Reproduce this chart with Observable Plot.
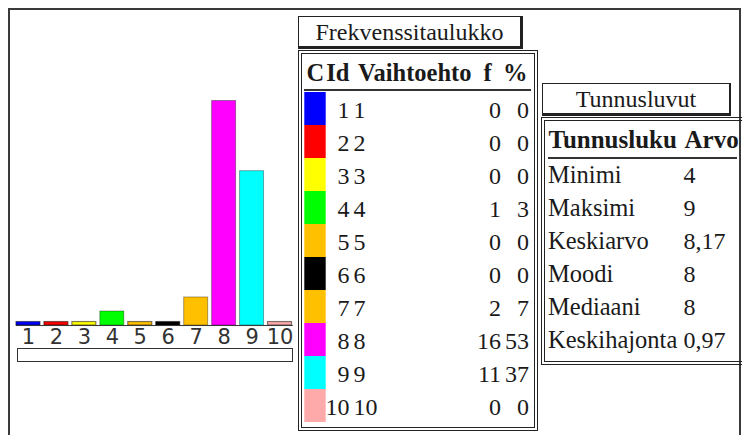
<!DOCTYPE html>
<html><head><meta charset="utf-8">
<script src="https://cdn.jsdelivr.net/npm/d3@7"></script>
<script src="https://cdn.jsdelivr.net/npm/@observablehq/plot@0.6"></script>
<style>
html,body{margin:0;padding:0;background:#fff;}
#root{position:relative;width:742px;height:435px;overflow:hidden;font-family:"Liberation Serif","Times New Roman",serif;color:#1a1a1a;}
.abs{position:absolute;box-sizing:border-box;}
.title{font-size:24px;text-align:center;white-space:nowrap;}
</style></head><body><div id="root"></div>
<script>
// ---- data ----
const ids = [1, 2, 3, 4, 5, 6, 7, 8, 9, 10];
const options = ["1", "2", "3", "4", "5", "6", "7", "8", "9", "10"];
const freq = [0, 0, 0, 1, 0, 0, 2, 16, 11, 0];
const percent = [0, 0, 0, 3, 0, 0, 7, 53, 37, 0];
const colors = ["#0000ff", "#ff0000", "#ffff00", "#00ff00", "#ffc000", "#000000", "#ffc000", "#ff00ff", "#00ffff", "#ffaaaa"];
const freqTitle = "Frekvenssitaulukko";
const freqHeaders = ["C", "Id", "Vaihtoehto", "f", "%"];
const statTitle = "Tunnusluvut";
const statHeaders = ["Tunnusluku", "Arvo"];
const statNames = ["Minimi", "Maksimi", "Keskiarvo", "Moodi", "Mediaani", "Keskihajonta"];
const statValues = ["4", "9", "8,17", "8", "8", "0,97"];

const rows = ids.map((id, i) => ({id, option: options[i], f: freq[i], pct: percent[i]}));
const stats = statNames.map((name, i) => ({name, value: statValues[i]}));

const root = document.getElementById("root");
function box(css, text) {
  const d = document.createElement("div");
  d.className = "abs";
  d.style.cssText = css;
  if (text != null) d.textContent = text;
  root.appendChild(d);
  return d;
}

// outer frame
box("left:8px;top:8px;width:733px;height:460px;border:2px solid #3a3a3a;");

// ---- bar chart ----
const barWrap = box("left:0;top:0;width:293.5px;height:370px;overflow:hidden;");
const barPlot = Plot.plot({
  width: 294, height: 370,
  marginLeft: 16, marginRight: 0.7, marginTop: 100.7, marginBottom: 44.4,
  x: {type: "band", domain: ids, paddingInner: 0.13, paddingOuter: 0, label: null},
  y: {domain: [0, d3.max(freq)], axis: null},
  color: {type: "ordinal", domain: ids, range: colors},
  style: {background: "none", fontFamily: "DejaVu Sans", fontSize: "21px", color: "#333", overflow: "visible"},
  marks: [
    Plot.barY(rows.filter(d => d.f > 0), {x: "id", y: "f", fill: "id", stroke: "#000", strokeOpacity: 0.35, strokeWidth: 1}),
    Plot.barY(rows.filter(d => d.f === 0), {x: "id", y: "f", fill: "id", stroke: "#000", strokeOpacity: 0.5, strokeWidth: 1.2, insetTop: -3.5}),
    Plot.ruleY([0], {stroke: "#333", strokeWidth: 1}),
    Plot.axisX({tickSize: 0, tickPadding: 3.5, fontSize: 21, fontFamily: "DejaVu Sans", fill: "#333", label: null})
  ]
});
barWrap.appendChild(barPlot);
box("left:17px;top:348px;width:276px;height:13.5px;border:1.5px solid #333;");

// ---- frequency table ----
const ft = box("left:298px;top:16px;width:225px;height:32.5px;border:1px solid #222;border-right-width:3px;border-bottom-width:3px;line-height:30px;", freqTitle);
ft.classList.add("title");
box("left:298px;top:50px;width:239.5px;height:381px;border:4px double #222;");
box("left:304px;top:89.3px;width:227px;height:1.6px;background:#333;");
const freqLayout = [
  {dx: 8, anchor: "start"}, {dx: 51, anchor: "end"}, {dx: 59.5, anchor: "start"},
  {dx: 185, anchor: "start"}, {dx: 229, anchor: "end"}
];
const freqWrap = box("left:298px;top:50px;width:240px;height:380px;");
const freqPlot = Plot.plot({
  width: 240, height: 380,
  marginTop: 40.7, marginBottom: 6, marginLeft: 0, marginRight: 0,
  y: {type: "band", domain: ids, padding: 0, axis: null},
  color: {type: "ordinal", domain: ids, range: colors},
  style: {background: "none", fontFamily: "Liberation Serif", fontSize: "24px", color: "#1a1a1a", overflow: "visible"},
  marks: [
    Plot.cell(rows, {y: "id", fill: "id", insetLeft: 6.3, insetRight: 212.3}),
    Plot.text(rows, {y: "id", text: d => String(d.id), frameAnchor: "left", textAnchor: "end", dx: 51, dy: 1, fontSize: 24}),
    Plot.text(rows, {y: "id", text: "option", frameAnchor: "left", textAnchor: "start", dx: 55, dy: 1, fontSize: 24}),
    Plot.text(rows, {y: "id", text: d => String(d.f), frameAnchor: "left", textAnchor: "end", dx: 202.5, dy: 1, fontSize: 24}),
    Plot.text(rows, {y: "id", text: d => String(d.pct), frameAnchor: "left", textAnchor: "end", dx: 230.5, dy: 1, fontSize: 24}),
    ...freqHeaders.map((h, i) => Plot.text([h], {text: d => d, frameAnchor: "top-left", lineAnchor: "middle", textAnchor: freqLayout[i].anchor, dx: freqLayout[i].dx, dy: -18.4, fontWeight: "bold", fontSize: 24.5}))
  ]
});
freqWrap.appendChild(freqPlot);

// ---- statistics table ----
const st = box("left:542px;top:83px;width:189px;height:32.5px;border:1px solid #222;border-right-width:2px;border-bottom-width:3px;line-height:30.5px;", statTitle);
st.classList.add("title");
box("left:541px;top:117px;width:220px;height:247.5px;border:4px double #222;");
box("left:548px;top:157px;width:189px;height:1.6px;background:#333;");
const statLayout = [{dx: 7}, {dx: 143}];
const statWrap = box("left:541px;top:117px;width:201px;height:247px;");
const statPlot = Plot.plot({
  width: 201, height: 247,
  marginTop: 39.4, marginBottom: 7.6, marginLeft: 0, marginRight: 0,
  y: {type: "band", domain: statNames, padding: 0, axis: null},
  style: {background: "none", fontFamily: "Liberation Serif", fontSize: "24px", color: "#1a1a1a", overflow: "visible"},
  marks: [
    Plot.text(stats, {y: "name", text: "name", frameAnchor: "left", textAnchor: "start", dx: 6.5, dy: 1, fontSize: 24.5}),
    Plot.text(stats, {y: "name", text: "value", frameAnchor: "left", textAnchor: "start", dx: 142, dy: 1, fontSize: 24}),
    ...statHeaders.map((h, i) => Plot.text([h], {text: d => d, frameAnchor: "top-left", lineAnchor: "middle", textAnchor: "start", dx: statLayout[i].dx, dy: -17.4, fontWeight: "bold", fontSize: 25}))
  ]
});
statWrap.appendChild(statPlot);
</script></body></html>
